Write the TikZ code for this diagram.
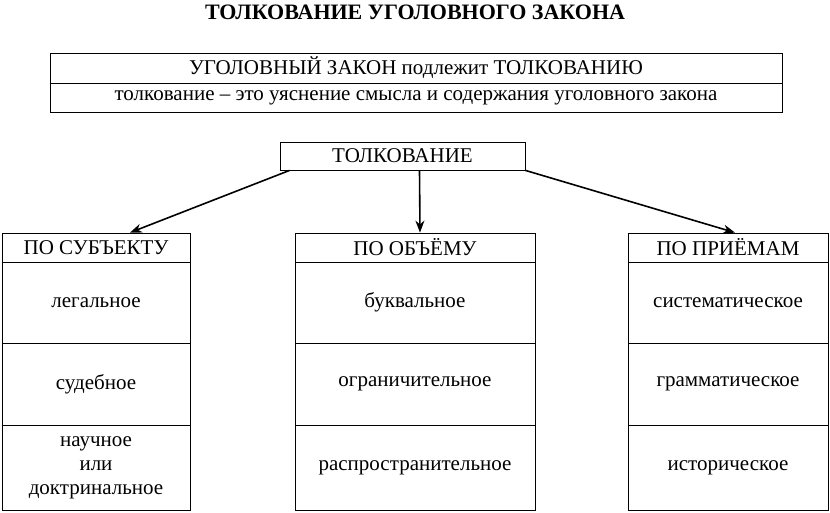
\documentclass[tikz,border=0pt]{standalone}
\usepackage{fontspec}
\setmainfont{Liberation Serif}
\usetikzlibrary{arrows.meta}
\begin{document}
\begin{tikzpicture}[x=1pt,y=-1pt,
  cell/.style={draw,thick,inner sep=0pt,align=center,font=\fontsize{21}{24}\selectfont},
  arr/.style={-{Stealth[length=12pt,width=9pt]},line width=1.6pt}]
 \useasboundingbox (0,0) rectangle (830,512);

  \node[font=\bfseries\fontsize{22}{24}\selectfont] (title) at (415,12) {ТОЛКОВАНИЕ УГОЛОВНОГО ЗАКОНА};

  \node[cell,minimum width=732pt,minimum height=30pt] (law) at (416,68) {УГОЛОВНЫЙ ЗАКОН подлежит ТОЛКОВАНИЮ};
  \node[cell,minimum width=732pt,minimum height=29pt] (def) at (416,97.5) {толкование -- это уяснение смысла и содержания уголовного закона};

  \node[cell,minimum width=245pt,minimum height=28pt] (tolk) at (402.5,156) {ТОЛКОВАНИЕ};

  % columns
  \node[cell,minimum width=188pt,minimum height=29pt] (subj) at (96,247.5) {ПО СУБЪЕКТУ};
  \node[cell,minimum width=188pt,minimum height=81pt] (leg) at (96,302.5) {легальное};
  \node[cell,minimum width=188pt,minimum height=82pt] (sud) at (96,384) {судебное};
  \node[cell,minimum width=188pt,minimum height=85pt] (nauch) at (96,467.5) {научное\\или\\доктринальное};

  \node[cell,minimum width=240pt,minimum height=29pt] (obj) at (415,247.5) {ПО ОБЪЁМУ};
  \node[cell,minimum width=240pt,minimum height=81pt] (bukv) at (415,302.5) {буквальное};
  \node[cell,minimum width=240pt,minimum height=82pt] (ogr) at (415,384) {ограничительное};
  \node[cell,minimum width=240pt,minimum height=85pt] (rasp) at (415,467.5) {распространительное};

  \node[cell,minimum width=200pt,minimum height=29pt] (prio) at (728,247.5) {ПО ПРИЁМАМ};
  \node[cell,minimum width=200pt,minimum height=81pt] (sist) at (728,302.5) {систематическое};
  \node[cell,minimum width=200pt,minimum height=82pt] (gram) at (728,384) {грамматическое};
  \node[cell,minimum width=200pt,minimum height=85pt] (ist) at (728,467.5) {историческое};

  \draw[arr] (tolk.south west)+(10,0) -- ([xshift=34pt]subj.north);
  \draw[arr] (tolk.south) ++(17,0) -- (obj.north -| 420,0);
  \draw[arr] (tolk.south east) -- ([xshift=7pt]prio.north);

\end{tikzpicture}
\end{document}
